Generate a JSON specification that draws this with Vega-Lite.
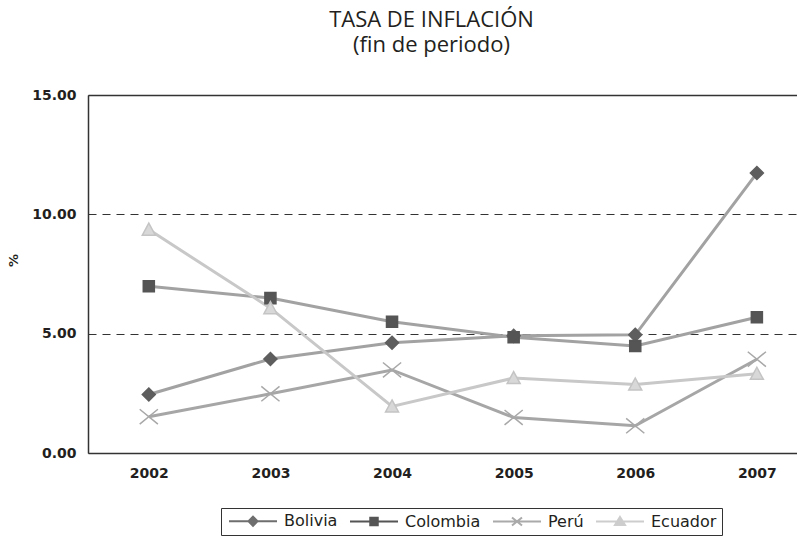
{
  "$schema": "https://vega.github.io/schema/vega-lite/v6.json",
  "autosize": {"type": "none"},
  "padding": {"left": 88, "top": 95, "right": 0, "bottom": 83},
  "width": 709,
  "height": 358,
  "background": "white",
  "config": {"view": {"stroke": null}},
  "title": {
    "text": ["TASA DE INFLACIÓN", "(fin de periodo)"],
    "font": "Open Sans",
    "fontSize": 22,
    "fontWeight": "normal",
    "color": "#231f20",
    "lineHeight": 25,
    "anchor": "middle",
    "dx": -11,
    "offset": 31
  },
  "data": {
    "values": [
      {"anio": 2002, "pais": "Bolivia", "valor": 2.45},
      {"anio": 2003, "pais": "Bolivia", "valor": 3.94},
      {"anio": 2004, "pais": "Bolivia", "valor": 4.62},
      {"anio": 2005, "pais": "Bolivia", "valor": 4.91},
      {"anio": 2006, "pais": "Bolivia", "valor": 4.95},
      {"anio": 2007, "pais": "Bolivia", "valor": 11.73},
      {"anio": 2002, "pais": "Colombia", "valor": 6.99},
      {"anio": 2003, "pais": "Colombia", "valor": 6.49},
      {"anio": 2004, "pais": "Colombia", "valor": 5.50},
      {"anio": 2005, "pais": "Colombia", "valor": 4.85},
      {"anio": 2006, "pais": "Colombia", "valor": 4.48},
      {"anio": 2007, "pais": "Colombia", "valor": 5.69},
      {"anio": 2002, "pais": "Perú", "valor": 1.52},
      {"anio": 2003, "pais": "Perú", "valor": 2.48},
      {"anio": 2004, "pais": "Perú", "valor": 3.48},
      {"anio": 2005, "pais": "Perú", "valor": 1.49},
      {"anio": 2006, "pais": "Perú", "valor": 1.14},
      {"anio": 2007, "pais": "Perú", "valor": 3.93},
      {"anio": 2002, "pais": "Ecuador", "valor": 9.36},
      {"anio": 2003, "pais": "Ecuador", "valor": 6.07},
      {"anio": 2004, "pais": "Ecuador", "valor": 1.95},
      {"anio": 2005, "pais": "Ecuador", "valor": 3.14},
      {"anio": 2006, "pais": "Ecuador", "valor": 2.87},
      {"anio": 2007, "pais": "Ecuador", "valor": 3.32}
    ]
  },
  "layer": [
    {
      "mark": {"type": "line", "strokeWidth": 3},
      "encoding": {
        "x": {
          "field": "anio", "type": "quantitative",
          "scale": {"domain": [2001.5, 2007.33], "nice": false, "zero": false},
          "axis": {
            "values": [2002, 2003, 2004, 2005, 2006, 2007],
            "format": "d", "title": null,
            "labelFont": "DejaVu Sans", "labelFontSize": 14, "labelFontWeight": "bold",
            "labelColor": "#231f20", "labelPadding": 13, "labelFlush": false,
            "ticks": false, "grid": false,
            "domainColor": "#333333", "domainWidth": 1.5
          }
        },
        "y": {
          "field": "valor", "type": "quantitative",
          "scale": {"domain": [0, 15], "nice": false},
          "axis": {
            "values": [0, 5, 10, 15], "format": ".2f",
            "title": "%", "titleFont": "DejaVu Sans", "titleFontSize": 13,
            "titleFontWeight": "bold", "titleColor": "#231f20", "titlePadding": 11, "titleY": 165,
            "labelFont": "DejaVu Sans", "labelFontSize": 14, "labelFontWeight": "bold",
            "labelColor": "#231f20", "labelPadding": 12,
            "ticks": false, "domainColor": "#333333", "domainWidth": 1.5,
            "grid": true, "gridColor": "#333333", "gridDash": [8, 6], "gridWidth": 1
          }
        },
        "color": {
          "field": "pais", "type": "nominal",
          "scale": {"domain": ["Bolivia", "Colombia", "Perú", "Ecuador"], "range": ["#a2a2a2", "#a2a2a2", "#a6a6a6", "#c8c8c8"]},
          "legend": null
        },
        "order": {"field": "anio"}
      }
    },
    {
      "mark": {"type": "point", "strokeWidth": 1.5, "opacity": 1, "size": 169},
      "encoding": {
        "x": {"field": "anio", "type": "quantitative", "axis": null},
        "y": {"field": "valor", "type": "quantitative"},
        "shape": {
          "field": "pais", "type": "nominal",
          "scale": {
            "domain": ["Bolivia", "Colombia", "Perú", "Ecuador"],
            "range": [
              "M0,-1L1,0L0,1L-1,0Z",
              "M-0.85,-0.85L0.85,-0.85L0.85,0.85L-0.85,0.85Z",
              "M-1.4,-1.15L1.4,1.15M-1.4,1.15L1.4,-1.15",
              "M0,-1L1,0.85L-1,0.85Z"
            ]
          },
          "legend": null
        },
        "fill": {
          "field": "pais", "type": "nominal",
          "scale": {"domain": ["Bolivia", "Colombia", "Perú", "Ecuador"], "range": ["#5e5e5e", "#555555", "#a8a8a8", "#d8d8d8"]},
          "legend": null
        },
        "stroke": {
          "field": "pais", "type": "nominal",
          "scale": {"domain": ["Bolivia", "Colombia", "Perú", "Ecuador"], "range": ["#5e5e5e", "#555555", "#a8a8a8", "#c4c4c4"]},
          "legend": null
        }
      }
    },
    {
      "transform": [{"filter": "false"}],
      "mark": {"type": "point", "strokeWidth": 2, "opacity": 1},
      "encoding": {
        "x": {
          "field": "anio", "type": "quantitative",
          "axis": {"orient": "top", "labels": false, "ticks": false, "grid": false, "title": null, "domainColor": "#333333", "domainWidth": 1.5}
        },
        "shape": {
          "field": "pais", "type": "nominal",
          "scale": {
            "domain": ["Bolivia", "Colombia", "Perú", "Ecuador"],
            "range": [
              "M-1,0L8.6,0M3.8,-0.9L4.7,0L3.8,0.9L2.9,0Z",
              "M-1,0L8.6,0M3.05,-0.75L4.55,-0.75L4.55,0.75L3.05,0.75Z",
              "M-1,0L8.6,0M2.8,-0.8L4.8,0.8M2.8,0.8L4.8,-0.8",
              "M-1,0L8.6,0M3.8,-0.9L4.8,0.7L2.8,0.7Z"
            ]
          },
          "legend": {
            "title": null, "orient": "none", "legendX": 133, "legendY": 413,
            "direction": "horizontal", "columns": 4,
            "strokeColor": "#333333", "padding": 5,
            "labelFont": "DejaVu Sans", "labelFontSize": 16, "labelColor": "#231f20",
            "symbolSize": 100, "symbolStrokeWidth": 2, "columnPadding": 8, "labelOffset": 42
          }
        },
        "fill": {
          "field": "pais", "type": "nominal",
          "scale": {"domain": ["Bolivia", "Colombia", "Perú", "Ecuador"], "range": ["#6e6e6e", "#555555", "#aaaaaa", "#cdcdcd"]},
          "legend": {
            "title": null, "orient": "none", "legendX": 133, "legendY": 413,
            "direction": "horizontal", "columns": 4,
            "strokeColor": "#333333", "padding": 5,
            "labelFont": "DejaVu Sans", "labelFontSize": 16, "labelColor": "#231f20",
            "symbolSize": 100, "symbolStrokeWidth": 2, "columnPadding": 8, "labelOffset": 42
          }
        },
        "stroke": {
          "field": "pais", "type": "nominal",
          "scale": {"domain": ["Bolivia", "Colombia", "Perú", "Ecuador"], "range": ["#6e6e6e", "#555555", "#aaaaaa", "#cdcdcd"]},
          "legend": {
            "title": null, "orient": "none", "legendX": 133, "legendY": 413,
            "direction": "horizontal", "columns": 4,
            "strokeColor": "#333333", "padding": 5,
            "labelFont": "DejaVu Sans", "labelFontSize": 16, "labelColor": "#231f20",
            "symbolSize": 100, "symbolStrokeWidth": 2, "columnPadding": 8, "labelOffset": 42
          }
        }
      }
    }
  ],
  "resolve": {
    "scale": {"shape": "independent", "fill": "independent", "stroke": "independent"},
    "legend": {"shape": "independent", "fill": "independent", "stroke": "independent"},
    "axis": {"x": "independent"}
  }
}
